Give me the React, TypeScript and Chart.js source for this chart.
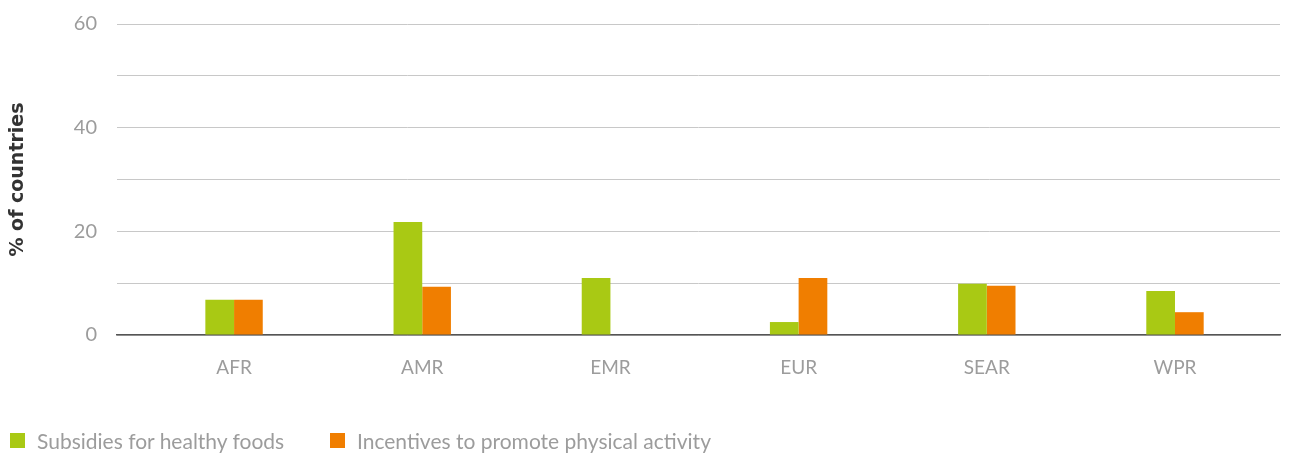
import React, { useEffect, useRef } from "react";
import { Chart, registerables } from "chart.js";

Chart.register(...registerables);

const categories = ["AFR", "AMR", "EMR", "EUR", "SEAR", "WPR"];
const seriesLabels = ["Subsidies for healthy foods", "Incentives to promote physical activity"];
const subsidiesHealthyFoods = [6.8, 21.8, 11.0, 2.5, 9.9, 8.5];
const incentivesPhysicalActivity = [6.8, 9.3, 0, 11.0, 9.5, 4.4];
const seriesColors = ["#a9c914", "#f07e00"];
const yTicks = [0, 20, 40, 60];

const FONT = "Lato, 'Open Sans', sans-serif";

export default function App() {
  const ref = useRef<HTMLCanvasElement | null>(null);

  useEffect(() => {
    if (!ref.current) return;
    const toPoints = (arr: number[]) => arr.map((y, i) => ({ x: i, y }));
    const chart = new Chart(ref.current, {
      type: "bar",
      data: {
        datasets: [
          {
            label: seriesLabels[0],
            data: toPoints(subsidiesHealthyFoods),
            backgroundColor: seriesColors[0],
            categoryPercentage: 0.305,
            barPercentage: 1,
          },
          {
            label: seriesLabels[1],
            data: toPoints(incentivesPhysicalActivity),
            backgroundColor: seriesColors[1],
            categoryPercentage: 0.305,
            barPercentage: 1,
          },
        ],
      },
      options: {
        animation: false,
        responsive: false,
        maintainAspectRatio: false,
        layout: { padding: { left: 0, right: 18, top: 24, bottom: 50 } },
        plugins: {
          tooltip: { enabled: false },
          legend: { display: false },
        },
        scales: {
          x: {
            type: "linear",
            offset: false,
            min: -0.622,
            max: 5.558,
            grid: { display: false },
            border: { display: true, color: "#555555", width: 1.5 },
            afterBuildTicks: (scale: any) => {
              scale.ticks = categories.map((_, i) => ({ value: i }));
            },
            afterFit: (scale: any) => {
              scale.height = 70;
            },
            ticks: {
              padding: 13,
              color: "#9c9c9c",
              font: { family: FONT, size: 19 },
              maxRotation: 0,
              autoSkip: false,
              callback: (v: any) => categories[Number(v)] ?? "",
            },
          },
          y: {
            min: 0,
            max: 60,
            afterFit: (scale: any) => {
              scale.width = 117;
            },
            border: { display: false },
            grid: {
              color: "#c8c8c8",
              lineWidth: 1,
              drawTicks: true,
              tickLength: 20,
              tickColor: "rgba(0,0,0,0)",
            },
            ticks: {
              stepSize: 10,
              padding: 0,
              color: "#9c9c9c",
              font: { family: FONT, size: 20 },
              callback: (v: any) => (yTicks.includes(Number(v)) ? String(v) : ""),
            },
            title: {
              display: true,
              text: "% of countries",
              color: "#333333",
              padding: { top: 7, bottom: 0 },
              font: { family: "'DejaVu Sans', sans-serif", size: 19, weight: "bold" },
            },
          },
        },
      },
    });
    return () => chart.destroy();
  }, []);

  const legendPos = [10, 330];

  return (
    <div style={{ position: "fixed", left: 0, top: 0, width: 1298, height: 455, background: "#fff" }}>
      <canvas ref={ref} width={1298} height={455} style={{ display: "block", width: 1298, height: 455 }} />
      {seriesLabels.map((label, i) => (
        <div
          key={label}
          style={{
            position: "absolute",
            left: legendPos[i],
            top: 428,
            height: 24,
            display: "flex",
            alignItems: "center",
            fontFamily: FONT,
            fontSize: 21,
            color: "#9c9c9c",
            whiteSpace: "nowrap",
          }}
        >
          <span style={{ display: "inline-block", width: 15, height: 15, background: seriesColors[i], marginRight: 12 }} />
          {label}
        </div>
      ))}
    </div>
  );
}
